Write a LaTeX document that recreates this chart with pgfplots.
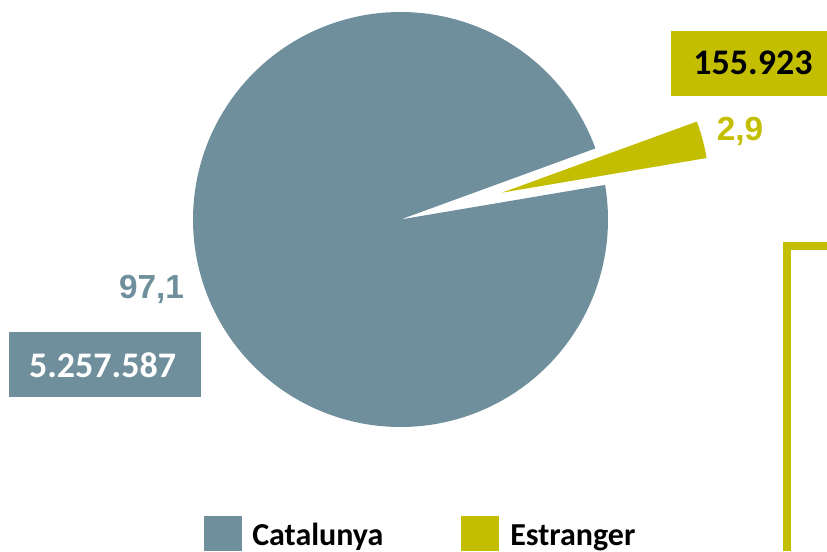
\documentclass[border=0pt]{standalone}
\usepackage{pgfplots}
\usepackage{pgfplotstable}
\pgfplotsset{compat=1.18}
\usepackage{fontspec}
\setmainfont{Carlito}
\newfontfamily\lsans{Liberation Sans}
\definecolor{catc}{RGB}{110,143,155}
\definecolor{estc}{RGB}{195,191,0}

\pgfplotstableread{
label value pct
Catalunya 5257587 97.1
Estranger 155923 2.9
}\piedata

\begin{document}
\begin{tikzpicture}
\pgfplotstablegetelem{0}{pct}\of\piedata \let\pctA\pgfplotsretval
\pgfplotstablegetelem{1}{pct}\of\piedata \let\pctB\pgfplotsretval
\pgfmathsetmacro{\startB}{9.6}
\pgfmathsetmacro{\endB}{\startB+3.6*\pctB}
\pgfmathsetmacro{\endA}{\endB+3.6*\pctA}
\pgfmathsetmacro{\midB}{(\startB+\endB)/2}
\pgfmathsetmacro{\cx}{400.5}
\pgfmathsetmacro{\cy}{331.5}
\pgfmathsetmacro{\R}{207.5}
\pgfmathsetmacro{\ox}{\cx+105*cos(\midB)}
\pgfmathsetmacro{\oy}{\cy+105*sin(\midB)}
\begin{axis}[
  x=0.75pt, y=0.75pt,
  xmin=0, xmax=827, ymin=0, ymax=551,
  scale only axis, hide axis, clip=true,
  xtick=\empty, ytick=\empty,
]
\path (axis cs:0,0) rectangle (axis cs:827,551);
% Catalunya slice
\addplot[fill=catc, draw=none, domain=\endB:\endA, samples=240, variable=\t]
  ({\cx+\R*cos(\t)}, {\cy+\R*sin(\t)}) -- (axis cs:\cx,\cy) -- cycle;
% Estranger slice (exploded)
\addplot[fill=estc, draw=none, domain=\startB:\endB, samples=20, variable=\t]
  ({\ox+\R*cos(\t)}, {\oy+\R*sin(\t)}) -- (axis cs:\ox,\oy) -- cycle;
% bracket line
\addplot[estc, line width=6pt, line join=miter, line cap=butt] coordinates {(827,305) (787,305) (787,0)};
% labels
\node[fill=estc, minimum width=117pt, minimum height=48.75pt, inner sep=0pt] at (axis cs:749,487.5) {};
\node[anchor=base, inner sep=0pt, font=\fontsize{27}{30}\selectfont\bfseries] at (axis cs:753,476) {155.923};
\node[anchor=base, inner sep=0pt, text=estc, font=\lsans\fontsize{25}{28}\selectfont\bfseries] at (axis cs:740,411) {2,9};
\node[anchor=base, inner sep=0pt, text=catc, font=\lsans\fontsize{25}{28}\selectfont\bfseries] at (axis cs:151.5,253) {97,1};
\node[fill=catc, minimum width=144pt, minimum height=48.75pt, inner sep=0pt] at (axis cs:105,186.5) {};
\node[anchor=base, inner sep=0pt, text=white, font=\fontsize{27}{30}\selectfont\bfseries] at (axis cs:102.5,174) {5.257.587};
% legend
\node[fill=catc, minimum width=28.5pt, minimum height=26.25pt, inner sep=0pt] at (axis cs:223,17.5) {};
\node[anchor=base west, inner sep=0pt, font=\fontsize{24}{28}\selectfont\bfseries] at (axis cs:252,6) {Catalunya};
\node[fill=estc, minimum width=28.5pt, minimum height=26.25pt, inner sep=0pt] at (axis cs:480,17.5) {};
\node[anchor=base west, inner sep=0pt, font=\fontsize{24}{28}\selectfont\bfseries] at (axis cs:510,6) {Estranger};
\end{axis}
\end{tikzpicture}
\end{document}
